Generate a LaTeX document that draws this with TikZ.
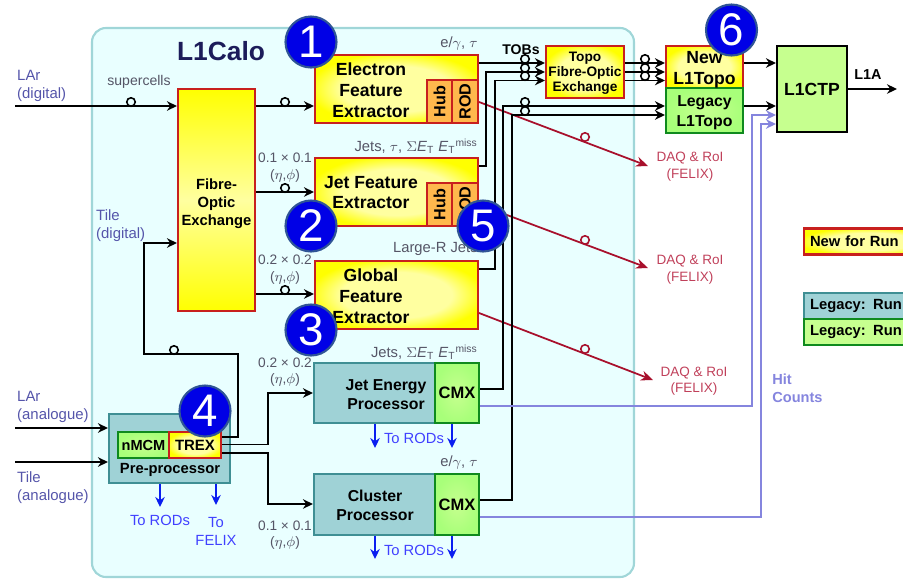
\documentclass[tikz,border=0pt]{standalone}
\usepackage{fontspec}
\setmainfont{Liberation Sans}
\usetikzlibrary{arrows.meta,positioning,calc}
\definecolor{panelfill}{HTML}{E9FFFF}
\definecolor{paneledge}{HTML}{A0D6D8}
\definecolor{tealfill}{HTML}{9FD2D6}
\definecolor{tealedge}{HTML}{3F8F94}
\definecolor{greenfill}{HTML}{C6FF8F}
\definecolor{greenedge}{HTML}{0F8A1E}
\definecolor{rededge}{HTML}{C8201E}
\definecolor{orangefill}{HTML}{FFB84D}
\definecolor{softyellow}{HTML}{FFFFA0}
\definecolor{daqred}{HTML}{A8102C}
\definecolor{daqtext}{HTML}{C0405A}
\definecolor{hitline}{HTML}{8585DE}
\definecolor{inputtext}{HTML}{5555AA}
\definecolor{graytext}{HTML}{555566}
\definecolor{rodblue}{HTML}{0A1EF0}
\definecolor{rodtext}{HTML}{4040FF}
\definecolor{titlenavy}{HTML}{1C1C5A}
\definecolor{badgeblue}{HTML}{0000E6}
\definecolor{badgeedge}{HTML}{2F5496}
\pgfdeclareradialshading{softglow}{\pgfpoint{0bp}{0bp}}{color(0bp)=(softyellow); color(17bp)=(softyellow); color(27bp)=(yellow); color(50bp)=(yellow)}
\begin{document}
\begin{tikzpicture}[x=0.02cm,y=-0.02cm,
    sig/.style={line width=1pt,-{Stealth[length=2mm,width=1.9mm]}},
    hit/.style={line width=1pt,hitline,-{Stealth[length=2mm,width=1.9mm]}},
    daq/.style={line width=1pt,daqred,-{Stealth[length=2.4mm,width=2mm]}},
    rodarrow/.style={line width=1pt,rodblue,-{Stealth[length=2mm,width=1.9mm]}},
    ring/.style={circle,draw,line width=0.9pt,inner sep=0pt,minimum size=1.7mm},
    boxnew/.style={draw=rededge,line width=1.2pt,inner sep=0pt,shading=softglow},
    boxhub/.style={draw=rededge,line width=1.2pt,inner sep=0pt,fill=orangefill,rotate=90,font=\bfseries\fontsize{9.2}{11}\selectfont},
    boxold/.style={draw=tealedge,line width=1.2pt,inner sep=0pt,fill=tealfill},
    boxgreen/.style={draw=greenedge,line width=1.2pt,inner sep=0pt,inner color=greenfill,outer color=greenfill!85!green},
    keybox/.style={line width=1.2pt,minimum width=2cm,minimum height=0.52cm,anchor=west,inner xsep=0.12cm,inner ysep=0pt,text width=2.4cm,align=left,font=\bfseries\fontsize{8.4}{10}\selectfont},
    bigtext/.style={align=center,font=\bfseries\fontsize{10}{11.9}\selectfont},
    midtext/.style={align=center,font=\bfseries\fontsize{9}{10.8}\selectfont},
    smalltext/.style={align=center,font=\bfseries\fontsize{8.4}{10.2}\selectfont},
    inputlabel/.style={align=left,inputtext,font=\fontsize{8.5}{10.2}\selectfont,anchor=west},
    objlabel/.style={graytext,font=\fontsize{8.4}{10}\selectfont,anchor=east,inner sep=0pt},
    gran/.style={align=center,graytext,font=\fontsize{7.8}{9.4}\selectfont},
    daqlabel/.style={align=center,daqtext,font=\fontsize{7.7}{9.4}\selectfont},
    rodlabel/.style={align=center,rodtext,font=\fontsize{8.4}{10.2}\selectfont},
    badge/.style={circle,draw=badgeedge,line width=1.2pt,fill=badgeblue,text=white,inner sep=0pt,minimum size=1.02cm,font=\fontsize{26}{26}\selectfont}]
  \useasboundingbox (0,0) rectangle (903,579);
  \draw[paneledge,line width=1.2pt,fill=panelfill,rounded corners=0.28cm] (92,28) rectangle (634,577);
  \node[font=\bfseries\fontsize{15}{18}\selectfont,text=titlenavy] (title) at (221,51) {L1Calo};

  \node[draw=rededge,line width=1.2pt,inner sep=0pt,minimum width=1.54cm,minimum height=4.44cm,top color=yellow,bottom color=yellow,middle color=softyellow] (fibre) at (216.5,200) {};
  \node[smalltext] (fibretxt) at (216.5,204) {Fibre-\\Optic\\Exchange};
  \node[boxnew,minimum width=3.26cm,minimum height=1.36cm] (elec) at (396.5,89) {};
  \node[boxnew,minimum width=3.26cm,minimum height=1.36cm] (jfe) at (396.5,192) {};
  \node[boxnew,minimum width=3.26cm,minimum height=1.36cm] (gfe) at (396.5,295) {};
  \node[boxhub,minimum width=0.86cm,minimum height=0.5cm] (hubA) at (439.5,101.5) {Hub};
  \node[boxhub,minimum width=0.86cm,minimum height=0.52cm] (rodA) at (465,101.5) {ROD};
  \node[boxhub,minimum width=0.86cm,minimum height=0.5cm] (hubB) at (439.5,204.5) {Hub};
  \node[boxhub,minimum width=0.86cm,minimum height=0.52cm] (rodB) at (465,204.5) {ROD};
  \node[bigtext] (electxt) at (371,90) {Electron\\Feature\\Extractor};
  \node[bigtext] (jfetxt) at (371,192.5) {Jet Feature\\Extractor};
  \node[bigtext] (gfetxt) at (371,296) {Global\\Feature\\Extractor};

  \node[boxold,minimum width=3.3cm,minimum height=1.2cm] (jep) at (396.5,393) {};
  \node[boxgreen,minimum width=0.88cm,minimum height=1.2cm,font=\bfseries\fontsize{9.4}{11}\selectfont] (jepcmx) at (457,393) {CMX};
  \node[midtext] (jeptxt) at (386,394.5) {Jet Energy\\Processor};
  \node[boxold,minimum width=3.3cm,minimum height=1.22cm] (clu) at (396.5,504.5) {};
  \node[boxgreen,minimum width=0.88cm,minimum height=1.22cm,font=\bfseries\fontsize{9.4}{11}\selectfont] (clucmx) at (457,504.5) {CMX};
  \node[midtext] (clutxt) at (375,505.5) {Cluster\\Processor};

  \node[boxold,minimum width=2.42cm,minimum height=1.38cm] (pre) at (169.5,448.5) {};
  \node[boxgreen,minimum width=1.02cm,minimum height=0.52cm,font=\bfseries\fontsize{8.3}{10}\selectfont] (nmcm) at (143.5,445) {nMCM};
  \node[boxnew,minimum width=1.04cm,minimum height=0.52cm,font=\bfseries\fontsize{8.5}{10}\selectfont] (trex) at (195,445) {TREX};
  \node[smalltext] (pretxt) at (170,470) {Pre-processor};

  \node[boxnew,minimum width=1.56cm,minimum height=1.04cm] (topo) at (585,72) {};
  \node[align=center,font=\bfseries\fontsize{7.8}{8.5}\selectfont] (topotxt) at (585,73) {Topo\\Fibre-Optic\\Exchange};
  \node[boxnew,minimum width=1.54cm,minimum height=0.84cm] (newtopo) at (704.5,67) {};
  \node[boxgreen,minimum width=1.54cm,minimum height=0.9cm] (oldtopo) at (704.5,110.5) {};
  \node[bigtext] (newtxt) at (704.5,69.5) {New\\L1Topo};
  \node[align=center,font=\bfseries\fontsize{9}{11.3}\selectfont] (oldtxt) at (704.5,113) {Legacy\\L1Topo};
  \node[draw=black,line width=1.2pt,inner sep=0pt,fill=greenfill,minimum width=1.4cm,minimum height=1.72cm,font=\bfseries\fontsize{10}{12}\selectfont] (ctp) at (812,89) {L1CTP};
  \node[font=\bfseries\fontsize{8.2}{10}\selectfont] (l1a) at (868,75) {L1A};

  \node[keybox,draw=rededge,shading=softglow] (keynew) at (803,241.5) {New for Run 3};
  \node[keybox,draw=tealedge,fill=tealfill] (keyrunA) at (803,306) {Legacy: Run 1};
  \node[keybox,draw=greenedge,fill=greenfill] (keyrunB) at (803,332) {Legacy: Run 2};

  \coordinate (lard) at (15,106);
  \coordinate (laa) at (15,428);
  \coordinate (tia) at (15,462);
  \coordinate (ea) at (285,106);
  \coordinate (eb) at (285,192);
  \coordinate (ec) at (285,294);
  \coordinate (tilea) at (144,243);
  \coordinate (tileb) at (144,354);
  \coordinate (tilec) at (238,354);
  \coordinate (tiled) at (238,437);
  \coordinate (tra) at (268,444.5);
  \coordinate (trb) at (268,393);
  \coordinate (trc) at (268,453);
  \coordinate (trd) at (268,504);
  \coordinate (lvA) at (525,63);
  \coordinate (jout) at (486,166);
  \coordinate (busB) at (486,72);
  \coordinate (gout) at (495,269);
  \coordinate (busC) at (495,80.5);
  \coordinate (jeout) at (503,389);
  \coordinate (busD) at (503,106);
  \coordinate (clout) at (512,500);
  \coordinate (busE) at (512,115);
  \coordinate (hitA) at (752,406);
  \coordinate (hitB) at (752,115);
  \coordinate (hitC) at (761,517);
  \coordinate (hitD) at (761,124);
  \coordinate (daqA) at (648,166);
  \coordinate (daqB) at (648,268);
  \coordinate (daqC) at (653,380);
  \coordinate (l1aend) at (897,89);
  \coordinate (rodA1) at (160,507);
  \coordinate (rodA2) at (216,505);
  \coordinate (rodB1) at (375,448);
  \coordinate (rodB2) at (452,448);
  \coordinate (rodC1) at (375,559);
  \coordinate (rodC2) at (452,559);

  \draw[daq] (rodA.south |- 478,102) -- (daqA);
  \draw[daq] (rodB.south |- 478,204.5) -- (daqB);
  \draw[daq] (gfe.east |- 478,313) -- (daqC);

  \draw[sig] (lard) -- (fibre.west |- lard);
  \draw[sig] (fibre.east |- ea) -- (elec.west |- ea);
  \draw[sig] (fibre.east |- eb) -- (jfe.west |- eb);
  \draw[sig] (fibre.east |- ec) -- (gfe.west |- ec);
  \draw[sig] (trex.east |- tiled) -- (tiled) -- (tilec) -- (tileb) -- (tilea) -- (fibre.west |- tilea);
  \draw[sig] (trex.east |- tra) -- (tra) -- (trb) -- (jep.west |- trb);
  \draw[sig] (trex.east |- trc) -- (trc) -- (trd) -- (clu.west |- trd);
  \draw[sig] (laa) -- (pre.west |- laa);
  \draw[sig] (tia) -- (pre.west |- tia);

  \draw[sig] (elec.east |- lvA) -- (topo.west |- lvA);
  \draw[sig] (jfe.east |- jout) -- (jout) -- (busB) -- (topo.west |- busB);
  \draw[sig] (gfe.east |- gout) -- (gout) -- (busC) -- (topo.west |- busC);
  \draw[sig] (jepcmx.east |- jeout) -- (jeout) -- (busD) -- (oldtopo.west |- busD);
  \draw[sig] (clucmx.east |- clout) -- (clout) -- (busE) -- (oldtopo.west |- busE);
  \draw[sig] (topo.east |- lvA) -- (newtopo.west |- lvA);
  \draw[sig] (topo.east |- busB) -- (newtopo.west |- busB);
  \draw[sig] (topo.east |- busC) -- (newtopo.west |- busC);
  \draw[sig] (newtopo.east |- lvA) -- (ctp.west |- lvA);
  \draw[sig] (oldtopo.east |- busD) -- (ctp.west |- busD);
  \draw[sig] (ctp.east) -- (l1aend);

  \draw[hit] (jepcmx.east |- hitA) -- (hitA) -- (hitB) -- (ctp.west |- hitB);
  \draw[hit] (clucmx.east |- hitC) -- (hitC) -- (hitD) -- (ctp.west |- hitD);

  \draw[rodarrow] (pre.south -| rodA1) -- (rodA1);
  \draw[rodarrow] (pre.south -| rodA2) -- (rodA2);
  \draw[rodarrow] (jep.south -| rodB1) -- (rodB1);
  \draw[rodarrow] (jep.south -| rodB2) -- (rodB2);
  \draw[rodarrow] (clu.south -| rodC1) -- (rodC1);
  \draw[rodarrow] (clu.south -| rodC2) -- (rodC2);

  \foreach \x/\y in {131/102,285/102,285/188,285/290,174/350,525/59,525/68,525/76,525/102,525/111,645/59,645/68,645/76}
    \node[ring] (ring\x-\y) at (\x,\y) {};
  \foreach \y in {137,240,349}
    \node[ring,draw=daqred] (daqring\y) at (585,\y) {};

  \node[font=\fontsize{8}{10}\selectfont,text=graytext] (super) at (139,82) {supercells};
  \node[font=\bfseries\fontsize{8}{10}\selectfont] (tobs) at (521,50) {TOBs};
  \node[inputlabel] (lardtxt) at (11,86) {LAr\\(digital)};
  \node[inputlabel] (tiledtxt) at (90,226) {Tile\\(digital)};
  \node[inputlabel] (laatxt) at (11,407) {LAr\\(analogue)};
  \node[inputlabel] (tiatxt) at (11,488) {Tile\\(analogue)};
  \node[objlabel] (objA) at (478,44) {e/$\gamma$, $\tau$};
  \node[objlabel] (objB) at (478,146) {Jets, $\tau$, $\Sigma$\textit{E}\textsubscript{T} \textit{E}\textsubscript{T}\textsuperscript{miss}};
  \node[objlabel] (objC) at (478,249) {Large-R Jets};
  \node[objlabel] (objD) at (478,352) {Jets, $\Sigma$\textit{E}\textsubscript{T} \textit{E}\textsubscript{T}\textsuperscript{miss}};
  \node[objlabel] (objE) at (478,463) {e/$\gamma$, $\tau$};
  \node[gran] (granA) at (285,167.5) {0.1 × 0.1\\($\eta$,$\phi$)};
  \node[gran] (granB) at (285,269.5) {0.2 × 0.2\\($\eta$,$\phi$)};
  \node[gran] (granC) at (285,372) {0.2 × 0.2\\($\eta$,$\phi$)};
  \node[gran] (granD) at (285,535) {0.1 × 0.1\\($\eta$,$\phi$)};
  \node[daqlabel] (daqtxtA) at (690,166.5) {DAQ \& RoI\\(FELIX)};
  \node[daqlabel] (daqtxtB) at (690,269.5) {DAQ \& RoI\\(FELIX)};
  \node[daqlabel] (daqtxtC) at (694,381) {DAQ \& RoI\\(FELIX)};
  \node[rodlabel] (rodtxtA) at (160,520) {To RODs};
  \node[rodlabel] (rodtxtB) at (216,531) {To\\FELIX};
  \node[rodlabel] (rodtxtC) at (414,438) {To RODs};
  \node[rodlabel] (rodtxtD) at (414,550) {To RODs};
  \node[align=left,anchor=west,text=hitline,inner sep=0pt,font=\bfseries\fontsize{8.3}{10.2}\selectfont] (hittxt) at (772,388) {Hit\\Counts};

  \node[badge] (badgeA) at (311,42) {1};
  \node[badge] (badgeB) at (311,226) {2};
  \node[badge] (badgeC) at (311,330) {3};
  \node[badge] (badgeD) at (205,411) {4};
  \node[badge] (badgeE) at (483,226) {5};
  \node[badge] (badgeF) at (731.5,30) {6};
\end{tikzpicture}
\end{document}
